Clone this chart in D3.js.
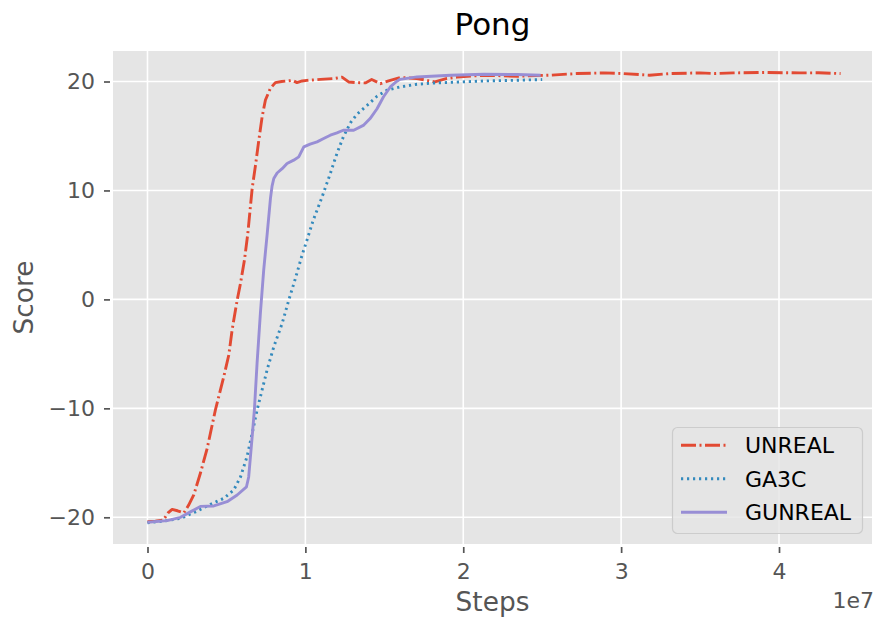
<!DOCTYPE html>
<html>
<head>
<meta charset="utf-8">
<script src="https://cdn.jsdelivr.net/npm/d3@7"></script>
<style>
  html, body { margin: 0; padding: 0; background: #fff; }
  svg { display: block; font-family: "DejaVu Sans", sans-serif; }
</style>
</head>
<body>
<svg id="chart" width="877" height="625"></svg>
<script>
// ---- data (x in units of 1e7 steps) ----
const seriesNames = ["UNREAL", "GA3C", "GUNREAL"];
const xTicks = [0, 1, 2, 3, 4];
const yTicks = [-20, -10, 0, 10, 20];

const unrealX = [0,0.05,0.10,0.13,0.156,0.19,0.23,0.26,0.293,0.335,0.378,0.43,0.483,0.515,0.536,0.568,0.589,0.614,0.635,0.663,0.684,0.705,0.726,0.747,0.778,0.81,0.85,0.884,0.92,0.947,0.98,1.01,1.095,1.18,1.232,1.274,1.32,1.38,1.42,1.475,1.527,1.6,1.707,1.82,1.897,1.96,2.13,2.34,2.55,2.72,2.89,3.01,3.18,3.31,3.5,3.6,3.71,3.92,4.13,4.25,4.39];
const unrealY = [-20.4,-20.35,-20.25,-19.6,-19.27,-19.4,-19.6,-18.9,-17.95,-15.96,-13.67,-10.15,-7.1,-5.1,-2.8,-0.06,1.47,3.6,6.0,10.18,12.3,14.6,16.75,18.3,19.36,19.9,20.0,20.05,20.1,19.9,20.05,20.1,20.2,20.27,20.4,19.96,19.9,19.87,20.18,19.8,20.05,20.37,20.28,19.96,20.28,20.4,20.58,20.48,20.58,20.73,20.79,20.73,20.58,20.73,20.79,20.73,20.79,20.83,20.79,20.8,20.73];

const ga3cX = [0,0.125,0.209,0.304,0.4,0.483,0.546,0.589,0.631,0.663,0.694,0.726,0.757,0.8,0.853,0.895,0.937,0.979,1.01,1.05,1.106,1.158,1.2,1.24,1.285,1.327,1.39,1.454,1.517,1.6,1.707,1.83,1.98,2.13,2.3,2.5];
const ga3cY = [-20.5,-20.3,-20.1,-19.5,-18.8,-18.26,-17.5,-16.3,-14.4,-12.3,-10.16,-8.3,-6.5,-4.35,-2.2,-0.06,1.93,4.06,5.44,7.28,9.41,11.56,13.4,14.9,16.2,17.0,17.8,18.65,19.2,19.5,19.75,19.87,19.96,20.05,20.1,20.18];

const gunrealX = [0,0.125,0.209,0.272,0.335,0.42,0.504,0.568,0.627,0.641,0.663,0.677,0.694,0.715,0.736,0.758,0.779,0.789,0.8,0.821,0.853,0.884,0.926,0.958,0.99,1.03,1.074,1.116,1.158,1.2,1.24,1.306,1.37,1.41,1.454,1.495,1.538,1.58,1.6,1.707,1.92,2.13,2.34,2.49];
const gunrealY = [-20.45,-20.3,-20.0,-19.5,-19.0,-18.96,-18.57,-17.95,-17.2,-16.3,-12.6,-10.15,-5.87,-1.28,2.69,6.0,9.3,10.4,11.1,11.6,12.0,12.48,12.78,13.08,14.0,14.25,14.46,14.77,15.07,15.28,15.53,15.53,16.0,16.6,17.5,18.6,19.5,20.03,20.2,20.42,20.58,20.67,20.64,20.58];

const seriesX = [unrealX, ga3cX, gunrealX];
const seriesY = [unrealY, ga3cY, gunrealY];
const colors = ["#E24A33", "#348ABD", "#988ED5"];
const dashes = ["15,3.5,2,3.5", "2.2,3.8", null];

// ---- layout ----
const svg = d3.select("#chart");
const L = 113, R = 872, T = 51, B = 544;
const x = d3.scaleLinear().domain([-0.2185, 4.589]).range([L, R]);
const y = d3.scaleLinear().domain([-22.45, 22.8]).range([B, T]);

svg.append("rect").attr("x", 0).attr("y", 0).attr("width", 877).attr("height", 625).attr("fill", "#fff");
svg.append("rect").attr("x", L).attr("y", T).attr("width", R - L).attr("height", B - T).attr("fill", "#E5E5E5");

// grid
const grid = svg.append("g");
grid.selectAll("line.vx").data(xTicks).enter().append("line")
  .attr("x1", d => x(d)).attr("x2", d => x(d)).attr("y1", T).attr("y2", B)
  .attr("stroke", "#fff").attr("stroke-width", 1.6);
grid.selectAll("line.hy").data(yTicks).enter().append("line")
  .attr("x1", L).attr("x2", R).attr("y1", d => y(d)).attr("y2", d => y(d))
  .attr("stroke", "#fff").attr("stroke-width", 1.6);

// axes
const xAxis = d3.axisBottom(x).tickValues(xTicks).tickSize(6).tickPadding(10).tickFormat(d3.format("d"));
const gx = svg.append("g").attr("transform", `translate(0,${B + 3})`).call(xAxis);
gx.select(".domain").remove();
gx.selectAll(".tick line").attr("stroke", "#555").attr("stroke-width", 1.7);
gx.selectAll(".tick text").attr("fill", "#555").attr("font-size", 22).attr("font-family", "DejaVu Sans");

const yAxis = d3.axisLeft(y).tickValues(yTicks).tickSize(6).tickPadding(9)
  .tickFormat(d => d < 0 ? "\u2212" + Math.abs(d) : String(d));
const gy = svg.append("g").attr("transform", `translate(${L - 3},0)`).call(yAxis);
gy.select(".domain").remove();
gy.selectAll(".tick line").attr("stroke", "#555").attr("stroke-width", 1.7);
gy.selectAll(".tick text").attr("fill", "#555").attr("font-size", 22).attr("font-family", "DejaVu Sans");

// lines
const clipId = "plotclip";
svg.append("clipPath").attr("id", clipId).append("rect")
  .attr("x", L).attr("y", T).attr("width", R - L).attr("height", B - T);
const lineGen = d3.line().x(d => x(d[0])).y(d => y(d[1]));
const linesG = svg.append("g").attr("clip-path", `url(#${clipId})`);
seriesNames.forEach((name, i) => {
  const pts = seriesX[i].map((v, j) => [v, seriesY[i][j]]);
  const p = linesG.append("path").datum(pts)
    .attr("d", lineGen).attr("fill", "none")
    .attr("stroke", colors[i]).attr("stroke-width", 2.9)
    .attr("stroke-linejoin", "round");
  if (dashes[i]) p.attr("stroke-dasharray", dashes[i]);
});

// titles
svg.append("text").attr("x", (L + R) / 2).attr("y", 35).attr("text-anchor", "middle")
  .attr("font-size", 31).attr("fill", "#000").text("Pong");
svg.append("text").attr("x", (L + R) / 2).attr("y", 611).attr("text-anchor", "middle")
  .attr("font-size", 26.4).attr("fill", "#555").text("Steps");
svg.append("text").attr("transform", `translate(33,${(T + B) / 2}) rotate(-90)`)
  .attr("text-anchor", "middle").attr("font-size", 26.4).attr("fill", "#555").text("Score");
svg.append("text").attr("x", 874).attr("y", 608).attr("text-anchor", "end")
  .attr("font-size", 22).attr("fill", "#555").text("1e7");

// legend
const lg = svg.append("g");
lg.append("rect").attr("x", 672.5).attr("y", 427.5).attr("width", 190).attr("height", 106)
  .attr("rx", 5).attr("fill", "#E5E5E5").attr("fill-opacity", 0.8)
  .attr("stroke", "#CCCCCC").attr("stroke-width", 1.2);
seriesNames.forEach((name, i) => {
  const cy = 445.3 + i * 33.5;
  const ln = lg.append("line").attr("x1", 681).attr("x2", 727).attr("y1", cy).attr("y2", cy)
    .attr("stroke", colors[i]).attr("stroke-width", 2.9);
  if (dashes[i]) ln.attr("stroke-dasharray", dashes[i]);
  lg.append("text").attr("x", 745).attr("y", cy + 8).attr("font-size", 22)
    .attr("fill", "#000").text(name);
});
</script>
</body>
</html>
